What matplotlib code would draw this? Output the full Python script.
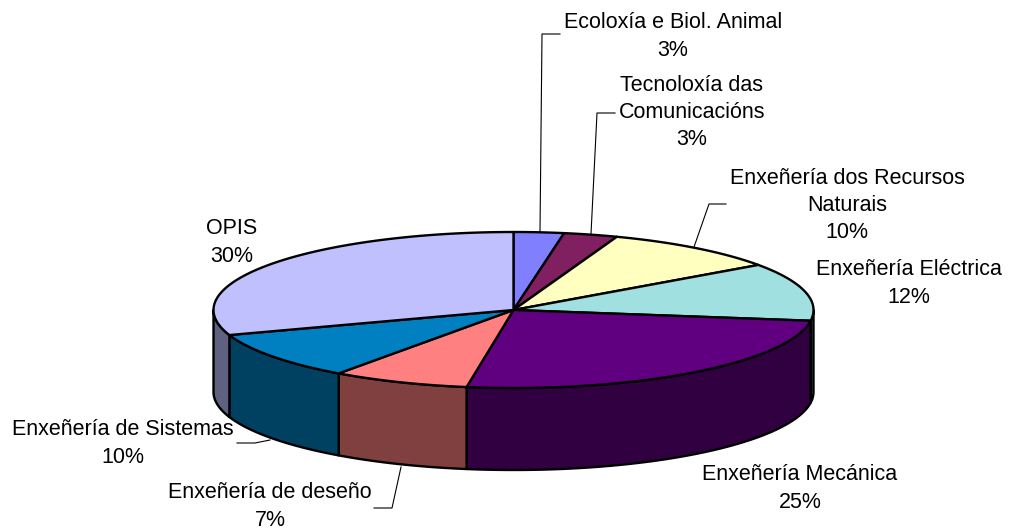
import numpy as np
import matplotlib
matplotlib.use("Agg")
import matplotlib.pyplot as plt
from matplotlib.patches import Polygon

categories = ["Ecoloxía e Biol. Animal", "Tecnoloxía das\nComunicacións",
              "Enxeñería dos Recursos\nNaturais", "Enxeñería Eléctrica",
              "Enxeñería Mecánica", "Enxeñería de deseño",
              "Enxeñería de Sistemas", "OPIS"]
values = [2.7, 2.9, 9.6, 12.0, 25.3, 7.4, 9.9, 30.2]
percent_labels = ["3%", "3%", "10%", "12%", "25%", "7%", "10%", "30%"]
top_colors = ["#8080FF", "#802060", "#FFFFC0", "#A0E0E0",
              "#600080", "#FF8080", "#0080C0", "#C0C0FF"]
side_colors = ["#404080", "#401030", "#808060", "#507070",
               "#300040", "#804040", "#004060", "#606080"]

plt.rcParams["font.family"] = ["Liberation Sans", "DejaVu Sans"]
fig = plt.figure(figsize=(10.14, 5.30), dpi=100)
ax = fig.add_axes([0, 0, 1, 1])
ax.set_xlim(0, 1014)
ax.set_ylim(530, 0)
ax.axis("off")

CX, CY, RX, RY, DEPTH = 513.5, 310, 300, 78, 82
LW = 1.7


def rim(a, b, n=120):
    t = np.linspace(a, b, n)
    return CX + RX * np.sin(t), CY - RY * np.cos(t)


edges = 2 * np.pi * np.concatenate([[0], np.cumsum(values)]) / np.sum(values)

# side walls: only the near half of the rim (pi/2 .. 3pi/2) is visible
for i in range(len(values)):
    a, b = max(edges[i], np.pi / 2), min(edges[i + 1], 3 * np.pi / 2)
    if b <= a:
        continue
    x, y = rim(a, b)
    pts = np.r_[np.c_[x, y], np.c_[x[::-1], y[::-1] + DEPTH]]
    ax.add_patch(Polygon(pts, closed=True, fc=side_colors[i], ec="black",
                         lw=LW, joinstyle="round", zorder=2))

# top faces
for i in range(len(values)):
    x, y = rim(edges[i], edges[i + 1])
    pts = np.r_[[[CX, CY]], np.c_[x, y]]
    ax.add_patch(Polygon(pts, closed=True, fc=top_colors[i], ec="black",
                         lw=LW, joinstyle="round", zorder=3))

# labels
label_pos = [(673, 36.5), (692, 112.5), (847, 205.5), (909, 283.5),
             (800, 488.5), (270, 506.5), (123, 443.5), (232, 242.5)]
for name, pct, (lx, ly) in zip(categories, percent_labels, label_pos):
    ax.text(lx, ly, f"{name}\n{pct}", ha="center", va="center", fontsize=15.5,
            linespacing=1.39, color="black", zorder=5)

# leader lines
leaders = [[(540, 232), (542, 34), (560, 34)],
           [(591, 234), (597, 113), (615, 113)],
           [(694, 247), (709, 204), (726, 204)],
           [(270, 440), (255, 443), (237, 443)],
           [(401, 467), (392, 508), (374, 508)]]
for ln in leaders:
    xs, ys = zip(*ln)
    ax.plot(xs, ys, color="black", lw=0.8, zorder=1)

fig.savefig("out.png", dpi=100)
